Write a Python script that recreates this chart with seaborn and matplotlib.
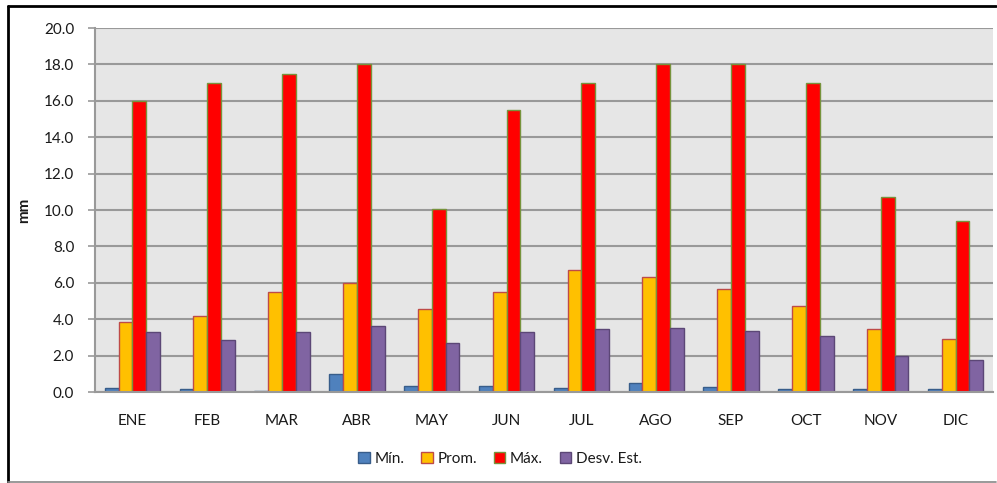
import matplotlib
matplotlib.use("Agg")
import matplotlib.pyplot as plt
import seaborn as sns
import pandas as pd
from matplotlib.patches import Patch
from matplotlib.lines import Line2D

months = ["ENE", "FEB", "MAR", "ABR", "MAY", "JUN", "JUL", "AGO", "SEP", "OCT", "NOV", "DIC"]
series = ["Mín.", "Prom.", "Máx.", "Desv. Est."]
v_min = [0.24, 0.16, 0.07, 1.0, 0.33, 0.33, 0.24, 0.49, 0.26, 0.16, 0.16, 0.16]
v_prom = [3.86, 4.19, 5.48, 5.97, 4.54, 5.48, 6.72, 6.32, 5.64, 4.71, 3.44, 2.93]
v_max = [16.0, 17.0, 17.5, 18.0, 10.05, 15.5, 17.0, 18.0, 18.0, 17.0, 10.7, 9.4]
v_desv = [3.28, 2.87, 3.28, 3.63, 2.69, 3.28, 3.46, 3.53, 3.37, 3.09, 1.99, 1.76]

fills = ["#4F81BD", "#FFC000", "#FF0000", "#8064A2"]
edges = ["#385D8A", "#BE4B48", "#77933C", "#5C4776"]

rows = []
for name, vals in zip(series, [v_min, v_prom, v_max, v_desv]):
    for m, v in zip(months, vals):
        rows.append({"mes": m, "serie": name, "valor": v})
df = pd.DataFrame(rows)

sns.set_style("white")
plt.rcParams["font.family"] = ["Lato", "DejaVu Sans"]

fig = plt.figure(figsize=(9.97, 4.83), dpi=100)
ax = fig.add_axes([95 / 997, 1 - 392 / 483, (993 - 95) / 997, (392 - 28) / 483])
ax.set_facecolor("#E6E6E6")

sns.barplot(data=df, x="mes", y="valor", hue="serie", order=months, hue_order=series,
            palette=fills, width=0.74, gap=0, ax=ax, legend=False, saturation=1)
for cont, ec in zip(ax.containers, edges):
    for bar in cont:
        bar.set_edgecolor(ec)
        bar.set_linewidth(1.0)

txt = "#1a1a1a"
ax.set_ylim(0, 20)
ax.set_xlim(-0.5, 11.5)
ax.set_yticks([0, 2, 4, 6, 8, 10, 12, 14, 16, 18, 20])
ax.set_yticklabels([f"{t:.1f}" for t in range(0, 21, 2)], fontsize=11, color=txt)
ax.set_xticklabels(months, fontsize=11, color=txt)
ax.yaxis.grid(True, color="#999999", linewidth=1.5)
ax.set_axisbelow(True)
ax.tick_params(axis="y", which="both", left=True, length=5, width=1.2, color="#999999", pad=10)
ax.tick_params(axis="x", bottom=False, pad=12)
for s in ["top", "right"]:
    ax.spines[s].set_visible(False)
for s in ["left", "bottom"]:
    ax.spines[s].set_color("#999999")
    ax.spines[s].set_linewidth(1.5)
ax.set_xlabel("")
ax.set_ylabel("mm", fontsize=11, fontweight="bold", labelpad=9, color=txt)

handles = [Patch(facecolor=f, edgecolor=e, linewidth=1.0) for f, e in zip(fills, edges)]
fig.legend(handles, series, loc="center", bbox_to_anchor=(500 / 997, 1 - 459 / 483), ncol=4,
           frameon=False, fontsize=11, handlelength=0.75, handleheight=0.75, handletextpad=0.3,
           columnspacing=1.1, labelcolor=txt)

# outer frame
fig.add_artist(Line2D([7.5 / 997, 996 / 997], [1 - 6 / 483, 1 - 6 / 483], color="black", linewidth=2, transform=fig.transFigure))
fig.add_artist(Line2D([7.5 / 997, 7.5 / 997], [1 - 6 / 483, 1 - 482 / 483], color="black", linewidth=2, transform=fig.transFigure))
fig.add_artist(Line2D([7.5 / 997, 996 / 997], [1 - 482 / 483, 1 - 482 / 483], color="#888888", linewidth=1.2, transform=fig.transFigure))

fig.savefig("out.png", dpi=100, facecolor="white")
